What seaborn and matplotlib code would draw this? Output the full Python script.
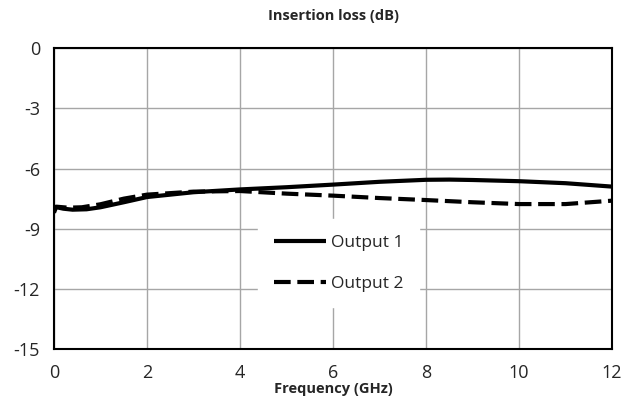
import numpy as np
import pandas as pd
import matplotlib
matplotlib.use("Agg")
import matplotlib.pyplot as plt
import seaborn as sns

freq1 = [0, 0.2, 0.4, 0.7, 1, 1.5, 2, 3, 4, 5, 6, 7, 8, 8.5, 9, 10, 11, 12]
out1 = [-7.9, -8.0, -8.05, -8.03, -7.93, -7.68, -7.42, -7.18, -7.04, -6.93, -6.8, -6.66, -6.56, -6.55, -6.57, -6.63, -6.73, -6.9]
freq2 = [0, 0.05, 0.3, 0.6, 1, 1.5, 2, 3, 4, 5, 6, 7, 8, 9, 10, 11, 12]
out2 = [-8.2, -7.9, -7.95, -7.93, -7.78, -7.5, -7.3, -7.15, -7.12, -7.25, -7.35, -7.47, -7.57, -7.68, -7.77, -7.77, -7.6]
labels = ["Output 1", "Output 2"]
xticks = [0, 2, 4, 6, 8, 10, 12]
yticks = [0, -3, -6, -9, -12, -15]

df = pd.concat([
    pd.DataFrame({"Frequency": freq1, "IL": out1, "Series": labels[0]}),
    pd.DataFrame({"Frequency": freq2, "IL": out2, "Series": labels[1]}),
])

sns.set_style("white")
plt.rcParams["font.family"] = ["Open Sans", "DejaVu Sans"]

fig = plt.figure(figsize=(6.24, 4.05), dpi=100)
ax = fig.add_axes([0.0865, 0.138, 0.8945, 0.743])
sns.lineplot(data=df, x="Frequency", y="IL", hue="Series", style="Series",
             palette=["black", "black"], dashes=[(1, 0), (4, 1.6)],
             linewidth=3, ax=ax, sort=False)

ax.set_xlim(0, 12)
ax.set_ylim(-15, 0)
ax.set_xticks(xticks)
ax.set_yticks(yticks)
ax.set_xticklabels([str(v) for v in xticks], fontsize=13)
ax.set_yticklabels([str(v) for v in yticks], fontsize=13)
ax.tick_params(axis="y", length=0, pad=10)
ax.tick_params(axis="x", length=0, pad=11)
ax.grid(True, color="#a6a6a6", linewidth=1)
for s in ax.spines.values():
    s.set_visible(True)
    s.set_color("black")
    s.set_linewidth(1.5)
ax.set_xlabel("Frequency (GHz)", fontsize=10.5, fontweight="bold", labelpad=0)
ax.set_ylabel("")
ax.set_title("Insertion loss (dB)", fontsize=10.5, fontweight="bold", pad=20)

leg = ax.legend(loc="center", bbox_to_anchor=(0.51, 0.285), frameon=True,
                fontsize=12.5, handlelength=3, labelspacing=1.4, borderpad=0.9,
                handletextpad=0.3)
leg.get_frame().set_facecolor("white")
leg.get_frame().set_edgecolor("white")
leg.get_frame().set_alpha(1)
leg.get_frame().set_boxstyle("square", pad=0)
for line in leg.get_lines():
    line.set_linewidth(3)

fig.savefig("out.png", dpi=100, facecolor="white")
